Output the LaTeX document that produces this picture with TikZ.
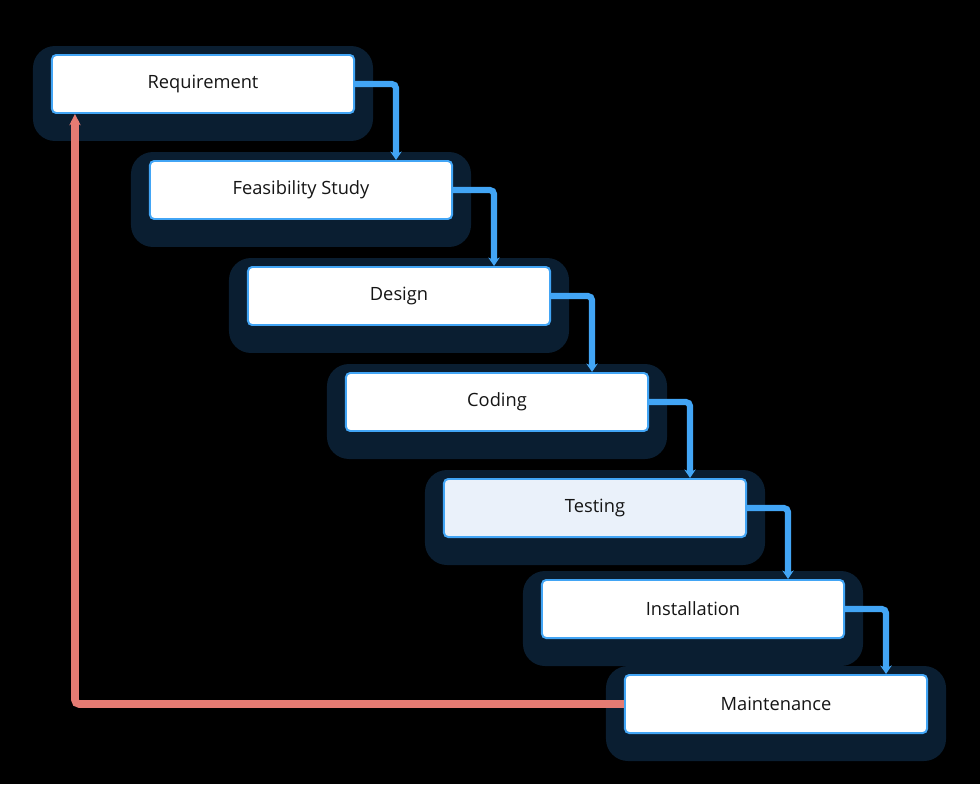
\documentclass[tikz,border=0pt]{standalone}
\usepackage{fontspec}
\setmainfont{Open Sans}
\usetikzlibrary{positioning, backgrounds, calc, arrows.meta}
\definecolor{stepblue}{HTML}{42A5F5}
\definecolor{shadownavy}{HTML}{0A1E31}
\definecolor{backred}{HTML}{E57B73}
\definecolor{testfill}{HTML}{EAF1FA}
\definecolor{inktext}{HTML}{151515}
\tikzset{
	phasenode/.style={
			shape=rectangle,
			draw=stepblue,
			line width=1.4pt,
			fill=white,
			rounded corners=3pt,
			minimum width=7.55cm,
			minimum height=1.45cm,
			inner sep=0pt,
			text=inktext,
			font=\fontsize{13}{15}\selectfont
		},
	activenode/.style={
			phasenode,
			fill=testfill
		},
	phaseshadow/.style={
			fill=shadownavy,
			rounded corners=0.55cm
		}
}
\tikzset{
	flowline/.style={draw=stepblue, line width=4.4pt, rounded corners=3pt, -{Stealth[length=6pt,width=8pt]}},
	backline/.style={draw=backred, line width=5.4pt, rounded corners=3pt, -{Stealth[length=8pt,width=8pt]}}
}

\begin{document}
\begin{tikzpicture}[x=0.025cm, y=-0.025cm]

  \node[phasenode] (req) at (203,84) {Requirement};
  \node[phasenode] (feas) at (301,190) {Feasibility Study};
  \node[phasenode] (des) at (399,296) {Design};
  \node[phasenode] (cod) at (497,402) {Coding};
  \node[activenode] (test) at (595,508) {Testing};
  \node[phasenode] (inst) at (693,609) {Installation};
  \node[phasenode] (maint) at (776,704) {Maintenance};

  % black page and dark panels behind each phase
  \begin{scope}[on background layer]
    \fill[black] (0,0) rectangle (980,784);
    \foreach \n in {req,feas,des,cod,test,inst,maint}
      \fill[phaseshadow] ($(\n.north west)+(-18,-8)$) rectangle ($(\n.south east)+(18,27)$);
  \end{scope}

  % waterfall steps
  \foreach \a/\b in {req/feas, feas/des, des/cod, cod/test, test/inst, inst/maint} {
    \coordinate (turn-\a) at ($(\a.east)+(41,0)$);
    \draw[flowline] (\a.east) -- (turn-\a) -- (turn-\a |- \b.north);
  }

  % feedback to the start
  \coordinate (ret) at ($(req.south west)+(24,0)$);
  \draw[backline] (maint.west) -| (ret);

\end{tikzpicture}
\end{document}
